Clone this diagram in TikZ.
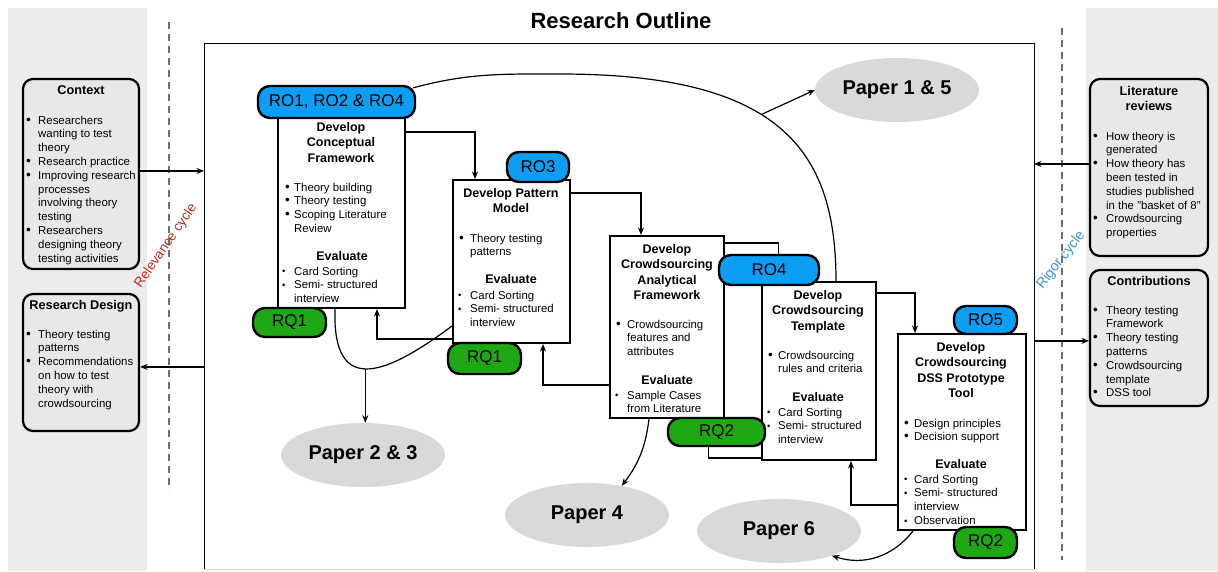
\documentclass[tikz,border=0pt]{standalone}
\usepackage{fontspec}
\setmainfont{Liberation Sans}
\usetikzlibrary{arrows.meta,shapes.geometric}

\definecolor{panelgray}{RGB}{236,236,236}
\definecolor{sidefill}{RGB}{232,232,232}
\definecolor{papergray}{RGB}{217,217,217}
\definecolor{roblue}{RGB}{12,158,245}
\definecolor{rqgreen}{RGB}{30,168,20}
\definecolor{relred}{RGB}{178,45,30}
\definecolor{rigblue}{RGB}{60,145,215}
\definecolor{dashgray}{RGB}{110,110,110}

% bullets and list helpers
\newcommand\bu[1]{\makebox[#1][l]{{\fontsize{13.5}{13.5}\selectfont\textbullet}}}
\newcommand\sbu[1]{\makebox[#1][l]{\raisebox{0.4pt}{\fontsize{9.5}{9.5}\selectfont\textbullet}}}
\newcommand\blist[1]{\begin{tabular}[t]{@{}l@{}l@{}}#1\end{tabular}}
\newcommand\hd[1]{\begin{tabular}[t]{@{}c@{}}#1\end{tabular}}

\begin{document}
\begin{tikzpicture}[x=1pt,y=-1pt,
  sidebox/.style={draw, line width=2.2pt, rounded corners=10pt, fill=sidefill, inner sep=0pt},
  stepbox/.style={draw, line width=2pt, fill=white, inner sep=0pt},
  pill/.style={draw, line width=2.4pt, rounded corners=12pt, inner sep=0pt, font=\fontsize{17}{17}\selectfont},
  ro/.style={pill, fill=roblue},
  rq/.style={pill, fill=rqgreen},
  paper/.style={ellipse, fill=papergray, inner sep=0pt, minimum width=164pt, minimum height=64pt,
    font=\bfseries\fontsize{20}{20}\selectfont},
  head/.style={inner sep=0pt, font=\bfseries\fontsize{12.5}{15.3}\selectfont, anchor=base},
  sidehead/.style={inner sep=0pt, font=\bfseries\fontsize{12.7}{15}\selectfont, anchor=base},
  txt/.style={inner sep=0pt, font=\fontsize{11.4}{13.8}\selectfont, anchor=base west},
  arr/.style={line width=1.2pt, -{Stealth[length=7.5pt,width=6pt]}},
  link/.style={line width=1.2pt},
  guide/.style={dash pattern=on 7pt off 5pt, draw=dashgray, line width=1.1pt}
]
\useasboundingbox (0,0) rectangle (1218,571);

% side panels
\fill[panelgray] (8,8) rectangle (147,571);
\fill[panelgray] (1086,8) rectangle (1218,571);

% main frame and title
\node[minimum width=830pt, minimum height=526pt, inner sep=0pt, outer sep=0pt] (frame) at (619,306) {};
\draw[line width=0.9pt] (frame.south west) -- (frame.north west) -- (frame.north east) -- (frame.south east);
\draw[gray!35, line width=1pt] (frame.south west) -- (frame.south east);
\node[font=\bfseries\fontsize{22}{22}\selectfont, anchor=base] (title) at (621,28) {Research Outline};

% cycle guides
\draw[guide] (169,22) -- (169,490);
\draw[guide] (1062,28) -- (1062,560);
\node[rotate=55, text=relred, font=\fontsize{13.5}{13.5}\selectfont, inner sep=0pt] (rel) at (166,246) {Relevance cycle};
\node[rotate=52, text=rigblue, font=\fontsize{14}{14}\selectfont, inner sep=0pt] (rig) at (1061,260) {Rigor cycle};

% papers
\node[paper] (p15) at (897,90) {Paper 1 \& 5};
\node[paper] (p23) at (363,455) {Paper 2 \& 3};
\node[paper] (p4) at (587,515) {Paper 4};
\node[paper] (p6) at (779,531) {Paper 6};

% side boxes
\node[sidebox, minimum width=116pt, minimum height=190pt] (ctx) at (81,174) {};
\node[sidebox, minimum width=116pt, minimum height=137pt] (rd) at (81,362.5) {};
\node[sidebox, minimum width=118pt, minimum height=177pt] (lit) at (1149,167.5) {};
\node[sidebox, minimum width=118pt, minimum height=136pt] (con) at (1149,338) {};

% step boxes
\node[stepbox, minimum width=127pt, minimum height=194pt] (b1) at (341.5,211) {};
\node[stepbox, minimum width=117pt, minimum height=163pt] (b2) at (511.5,261.5) {};
\node[stepbox, minimum width=114pt, minimum height=182pt] (b3) at (667,327) {};
\node[stepbox, minimum width=114pt, minimum height=178pt] (b4) at (819,371) {};
\node[stepbox, minimum width=128pt, minimum height=196pt] (b5) at (962,432) {};

% objective and question pills
\node[ro, minimum width=157pt, minimum height=32pt] (ro1) at (336.5,102) {RO1, RO2 \& RO4};
\node[ro, minimum width=62pt, minimum height=30pt] (ro3) at (538,167) {RO3};
\node[ro, minimum width=100pt, minimum height=30pt] (ro4) at (769,270) {RO4};
\node[ro, minimum width=63pt, minimum height=28pt] (ro5) at (985.5,320) {RO5};
\node[rq, minimum width=73pt, minimum height=29pt] (rq1a) at (289.5,322.5) {RQ1};
\node[rq, minimum width=73pt, minimum height=31pt] (rq1b) at (484.5,358.5) {RQ1};
\node[rq, minimum width=97pt, minimum height=28pt] (rq2a) at (716.5,432) {RQ2};
\node[rq, minimum width=63pt, minimum height=31pt] (rq2b) at (985.5,542.5) {RQ2};

% side arrows
\coordinate (ctxo) at ([yshift=-93pt]ctx.north east);
\draw[arr] (ctxo) -- (ctxo -| frame.west);
\coordinate (rdi) at ([yshift=-74pt]rd.north east);
\draw[arr] (rdi -| frame.west) -- (rdi);
\coordinate (lito) at ([yshift=-86pt]lit.north west);
\draw[arr] (lito) -- (lito -| frame.east);
\coordinate (coni) at ([yshift=-72pt]con.north west);
\draw[arr] (coni -| frame.east) -- (coni);

% flow between steps
\draw[arr] ([yshift=-19pt]b1.north east) -| ([xshift=23pt]b2.north west);
\draw[arr] ([yshift=-14pt]b2.north east) -| ([xshift=32pt]b3.north west);
\draw[arr] ([yshift=-12pt]b4.north east) -| ([xshift=18pt]b5.north west);
\draw[arr] ([yshift=26pt]b5.south west) -| ([xshift=-26pt]b4.south east);
\draw[arr] ([yshift=34pt]b3.south west) -| ([xshift=-28pt]b2.south east);
\draw[arr] ([yshift=5pt]b2.south west) -| ([xshift=100pt]b1.south west);
\draw[link] ([yshift=-8pt]b3.north east) -| ([xshift=61pt]ro4.north west);
\draw[link] ([xshift=42pt]rq2a.south west) |- ([yshift=3pt]b4.south west);

% curves to the papers
\coordinate (ctop) at (560,74);
\draw[link] ([xshift=-3pt,yshift=-3pt]ro1.north east) to[out=15,in=180] (ctop)
  .. controls (780,74) and (836,150) .. ([xshift=75pt]b4.north west) coordinate[pos=0.43] (c15);
\draw[arr] (c15) -- (p15.west);
\draw[link] ([xshift=58pt]b1.south west) .. controls (332,400) and (390,372) .. ([yshift=18pt]b2.south west)
  coordinate[pos=0.47] (c23);
\draw[arr] (c23) -- (c23 |- p23.north);
\draw[arr] ([xshift=40pt]b3.south west) to[bend left=15] (p4.40);
\draw[arr] ([xshift=16pt]b5.south west) to[bend left=35] (p6.-25);

% side box texts
\node[sidehead] (ctxT) at (81,94.5) {Context};
\node[txt] (ctxL) at (26,124) {\blist{\bu{12pt}&Researchers\\&wanting to test\\&theory\\
  \bu{12pt}&Research practice\\\bu{12pt}&Improving research\\&processes\\&involving theory\\&testing\\
  \bu{12pt}&Researchers\\&designing theory\\&testing activities}};
\node[sidehead] (rdT) at (81,309.5) {Research Design};
\node[txt] (rdL) at (26,338) {\blist{\bu{12pt}&Theory testing\\&patterns\\
  \bu{12pt}&Recommendations\\&on how to test\\&theory with\\&crowdsourcing}};
\node[sidehead] (litT) at (1149,95.5) {\hd{Literature\\reviews}};
\node[txt] (litL) at (1093,140) {\blist{\bu{13pt}&How theory is\\&generated\\
  \bu{13pt}&How theory has\\&been tested in\\&studies published\\&in the "basket of 8"\\
  \bu{13pt}&Crowdsourcing\\&properties}};
\node[sidehead] (conT) at (1149,285.5) {Contributions};
\node[txt] (conL) at (1093,314) {\blist{\bu{13pt}&Theory testing\\&Framework\\
  \bu{13pt}&Theory testing\\&patterns\\\bu{13pt}&Crowdsourcing\\&template\\\bu{13pt}&DSS tool}};

% step 1
\node[head] (h1) at (341,131.5) {\hd{Develop\\Conceptual\\Framework}};
\node[txt] (l1) at (285,191) {\blist{\bu{9pt}&Theory building\\\bu{9pt}&Theory testing\\
  \bu{9pt}&Scoping Literature\\&Review}};
\node[head] (e1) at (342,260.5) {Evaluate};
\node[txt] (s1) at (282,275) {\blist{\sbu{12pt}&Card Sorting\\\sbu{12pt}&Semi- structured\\&interview}};

% step 2
\node[head] (h2) at (511,197.5) {\hd{Develop Pattern\\Model}};
\node[txt] (l2) at (459,242) {\blist{\bu{11pt}&Theory testing\\&patterns}};
\node[head] (e2) at (511,283.5) {Evaluate};
\node[txt] (s2) at (458,299) {\blist{\sbu{12pt}&Card Sorting\\\sbu{12pt}&Semi- structured\\&interview}};

% step 3
\node[head] (h3) at (667,253.5) {\hd{Develop\\Crowdsourcing\\Analytical\\Framework}};
\node[txt] (l3) at (616,328) {\blist{\bu{11pt}&Crowdsourcing\\&features and\\&attributes}};
\node[head] (e3) at (667,384.5) {Evaluate};
\node[txt] (s3) at (615,399) {\blist{\sbu{12pt}&Sample Cases\\&from Literature}};

% step 4
\node[head] (h4) at (818,299.5) {\hd{Develop\\Crowdsourcing\\Template}};
\node[txt] (l4) at (768,359) {\blist{\bu{10pt}&Crowdsourcing\\&rules and criteria}};
\node[head] (e4) at (818,401.5) {Evaluate};
\node[txt] (s4) at (767,416) {\blist{\sbu{11pt}&Card Sorting\\\sbu{11pt}&Semi- structured\\&interview}};

% step 5
\node[head] (h5) at (961,351.5) {\hd{Develop\\Crowdsourcing\\DSS Prototype\\Tool}};
\node[txt] (l5) at (904,427) {\blist{\bu{10pt}&Design principles\\\bu{10pt}&Decision support}};
\node[head] (e5) at (961,468.5) {Evaluate};
\node[txt] (s5) at (904,483) {\blist{\sbu{10pt}&Card Sorting\\\sbu{10pt}&Semi- structured\\&interview\\
  \sbu{10pt}&Observation}};
\end{tikzpicture}
\end{document}
